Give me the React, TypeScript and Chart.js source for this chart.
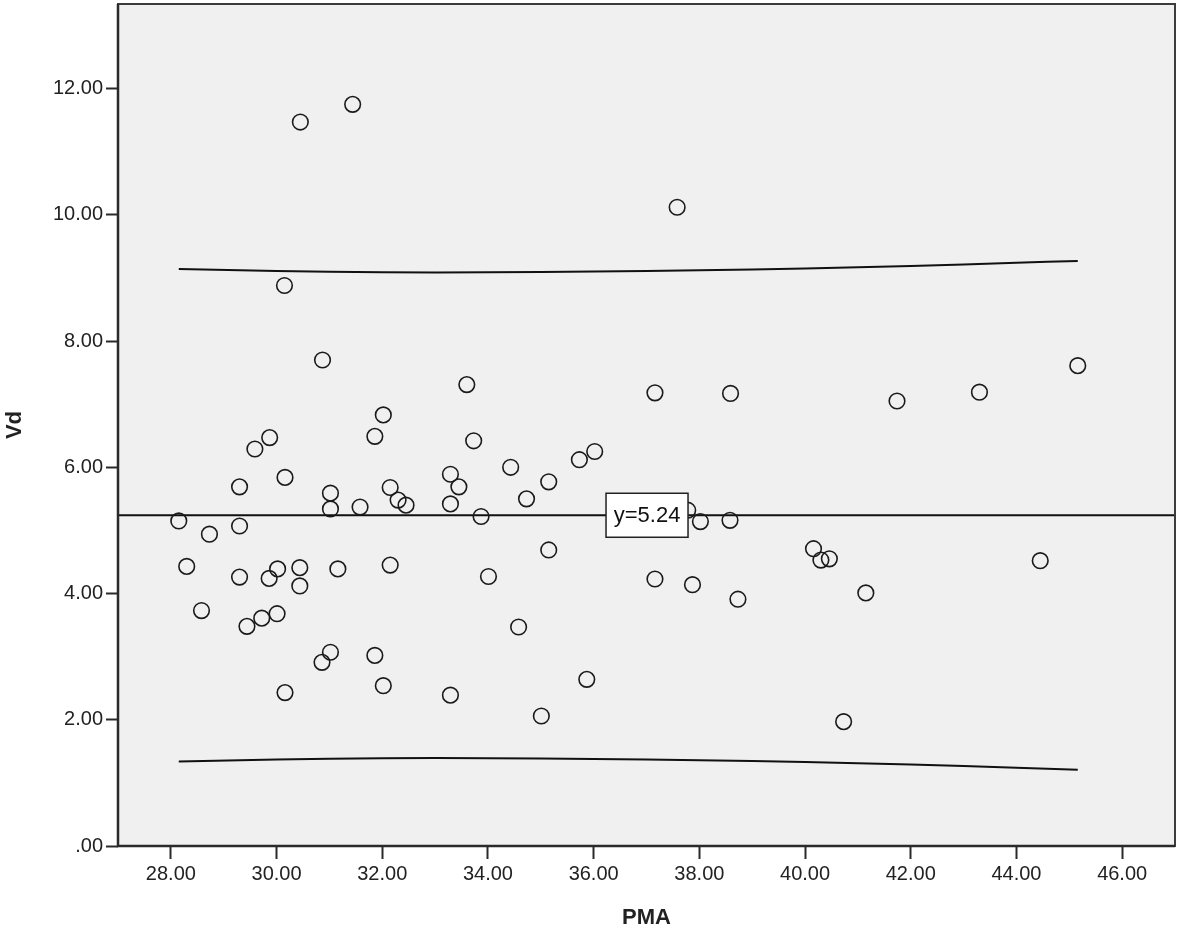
import React, { useEffect, useRef } from "react";
import { Chart, registerables } from "chart.js";

Chart.register(...registerables);

const pmaValues = [
  28.15, 28.73, 29.3, 29.3, 29.59, 29.87, 30.16, 28.3, 29.3, 29.86,
  30.02, 30.44, 30.44, 31.16, 32.15, 31.02, 31.02, 31.58, 32.15, 32.3,
  32.45, 31.86, 32.02, 33.29, 33.29, 28.58, 29.44, 29.72, 30.01, 30.86,
  31.02, 31.86, 30.16, 32.02, 33.29, 33.45, 33.73, 33.87, 34.43, 34.73,
  35.15, 35.73, 36.02, 35.15, 34.01, 34.58, 35.01, 35.87, 37.16, 37.87,
  38.73, 38.02, 38.58, 37.78, 30.45, 31.44, 30.15, 30.87, 37.58, 33.6,
  37.16, 38.59, 45.16, 43.3, 41.74, 40.16, 40.3, 40.46, 44.45, 41.15,
  40.73,
];
const vdValues = [
  5.15, 4.94, 5.69, 5.07, 6.29, 6.47, 5.84, 4.43, 4.26, 4.24,
  4.39, 4.41, 4.12, 4.39, 4.45, 5.59, 5.34, 5.37, 5.68, 5.48,
  5.4, 6.49, 6.83, 5.89, 5.42, 3.73, 3.48, 3.61, 3.68, 2.91,
  3.07, 3.02, 2.43, 2.54, 2.39, 5.69, 6.42, 5.22, 6.0, 5.5,
  5.77, 6.12, 6.25, 4.69, 4.27, 3.47, 2.06, 2.64, 4.23, 4.14,
  3.91, 5.14, 5.16, 5.32, 11.47, 11.75, 8.88, 7.7, 10.12, 7.31,
  7.18, 7.17, 7.61, 7.19, 7.05, 4.71, 4.53, 4.55, 4.52, 4.01,
  1.97,
];

// Mean line and prediction band curves
const meanVd = 5.24;
const meanLabel = "y=5.24";
const meanLabelX = 37.01;
const meanLineX = [27, 47];
const bandX = [28.15, 30, 32, 34, 36, 38, 40, 42, 44, 45.16];
const upperBand = [9.14, 9.11, 9.09, 9.09, 9.1, 9.12, 9.15, 9.19, 9.24, 9.27];
const lowerBand = [1.34, 1.37, 1.39, 1.39, 1.38, 1.36, 1.33, 1.29, 1.24, 1.21];

// Axes
const xTicks = [28, 30, 32, 34, 36, 38, 40, 42, 44, 46];
const yTicks = [0, 2, 4, 6, 8, 10, 12];
const xMin = 27;
const xMax = 47;
const yMin = 0;
const yMax = 13.34;
const xTitle = "PMA";
const yTitle = "Vd";

const FONT = "'Liberation Sans', Arial, Helvetica, sans-serif";
const fmt = (v: number) => (v === 0 ? ".00" : Number(v).toFixed(2));

const framePlugin = {
  id: "spssFrame",
  beforeDraw(chart: any) {
    const { ctx, chartArea } = chart;
    ctx.save();
    ctx.fillStyle = "#f0f0f0";
    ctx.fillRect(chartArea.left, chartArea.top, chartArea.right - chartArea.left, chartArea.bottom - chartArea.top);
    ctx.restore();
  },
  afterDraw(chart: any) {
    const { ctx, chartArea, scales } = chart;
    ctx.save();
    // frame
    ctx.strokeStyle = "#3c3c3c";
    ctx.lineWidth = 2;
    ctx.strokeRect(chartArea.left, chartArea.top, chartArea.right - chartArea.left, chartArea.bottom - chartArea.top);
    ctx.strokeStyle = "#2a2a2a";
    ctx.lineWidth = 2.5;
    ctx.beginPath();
    ctx.moveTo(chartArea.left, chartArea.top);
    ctx.lineTo(chartArea.left, chartArea.bottom);
    ctx.lineTo(chartArea.right, chartArea.bottom);
    ctx.stroke();
    // mean label box
    const cx = scales.x.getPixelForValue(meanLabelX);
    const cy = scales.y.getPixelForValue(meanVd);
    const w = 82;
    const h = 44;
    ctx.fillStyle = "#ffffff";
    ctx.fillRect(cx - w / 2, cy - h / 2, w, h);
    ctx.strokeStyle = "#222";
    ctx.lineWidth = 1.5;
    ctx.strokeRect(cx - w / 2, cy - h / 2, w, h);
    ctx.fillStyle = "#111";
    ctx.font = `22px ${FONT}`;
    ctx.textAlign = "center";
    ctx.textBaseline = "middle";
    ctx.fillText(meanLabel, cx, cy + 1);
    ctx.restore();
  },
};

export default function App() {
  const canvasRef = useRef<HTMLCanvasElement | null>(null);

  useEffect(() => {
    const canvas = canvasRef.current;
    if (!canvas) return;
    const points = pmaValues.map((x, i) => ({ x, y: vdValues[i] }));
    const upper = bandX.map((x, i) => ({ x, y: upperBand[i] }));
    const lower = bandX.map((x, i) => ({ x, y: lowerBand[i] }));
    const mean = meanLineX.map((x) => ({ x, y: meanVd }));

    const lineStyle = {
      showLine: true,
      pointRadius: 0,
      pointHoverRadius: 0,
      borderColor: "#111",
      borderWidth: 2,
      fill: false,
      tension: 0.4,
    };

    const chart = new Chart(canvas, {
      type: "scatter",
      data: {
        datasets: [
          {
            label: "Vd",
            data: points,
            pointStyle: "circle",
            pointRadius: 7.8,
            pointBorderWidth: 1.6,
            pointBorderColor: "#1a1a1a",
            pointBackgroundColor: "rgba(0,0,0,0)",
            showLine: false,
          } as any,
          { label: "upper", data: upper, ...lineStyle } as any,
          { label: "lower", data: lower, ...lineStyle } as any,
          { label: "mean", data: mean, ...lineStyle, tension: 0 } as any,
        ],
      },
      options: {
        animation: false,
        responsive: false,
        devicePixelRatio: 1,
        layout: { autoPadding: false, padding: { left: 0, top: 4, right: 6, bottom: 0 } },
        plugins: {
          legend: { display: false },
          tooltip: { enabled: false },
        },
        scales: {
          x: {
            type: "linear",
            min: xMin,
            max: xMax,
            afterBuildTicks: (s: any) => {
              s.ticks = xTicks.map((v) => ({ value: v }));
            },
            afterFit: (s: any) => {
              s.height = 89;
              s.paddingLeft = 0;
              s.paddingRight = 0;
              s.paddingTop = 0;
              s.paddingBottom = 0;
            },
            border: { display: false },
            grid: {
              drawOnChartArea: false,
              drawTicks: true,
              tickLength: 13,
              tickColor: "#2a2a2a",
              tickWidth: 2,
            },
            ticks: {
              autoSkip: false,
              maxRotation: 0,
              padding: 3,
              color: "#222",
              font: { family: FONT, size: 20 },
              callback: (v: any) => fmt(v),
            },
            title: {
              display: true,
              text: xTitle,
              color: "#222",
              font: { family: FONT, size: 22, weight: "bold" },
              padding: { top: 0, bottom: 4 },
            },
          },
          y: {
            type: "linear",
            min: yMin,
            max: yMax,
            afterBuildTicks: (s: any) => {
              s.ticks = yTicks.map((v) => ({ value: v }));
            },
            afterFit: (s: any) => {
              s.width = 118;
              s.paddingLeft = 0;
              s.paddingRight = 0;
              s.paddingTop = 0;
              s.paddingBottom = 0;
            },
            border: { display: false },
            grid: {
              drawOnChartArea: false,
              drawTicks: true,
              tickLength: 12,
              tickColor: "#2a2a2a",
              tickWidth: 2,
            },
            ticks: {
              autoSkip: false,
              padding: 3,
              color: "#222",
              font: { family: FONT, size: 20 },
              callback: (v: any) => fmt(v),
            },
            title: {
              display: true,
              text: yTitle,
              color: "#222",
              font: { family: FONT, size: 22, weight: "bold" },
              padding: { top: 2, bottom: 0 },
            },
          },
        },
      } as any,
      plugins: [framePlugin],
    });
    return () => chart.destroy();
  }, []);

  return (
    <div style={{ position: "absolute", left: 0, top: 0, width: 1181, height: 935, background: "#fff" }}>
      <canvas ref={canvasRef} width={1181} height={935} style={{ display: "block" }} />
    </div>
  );
}
